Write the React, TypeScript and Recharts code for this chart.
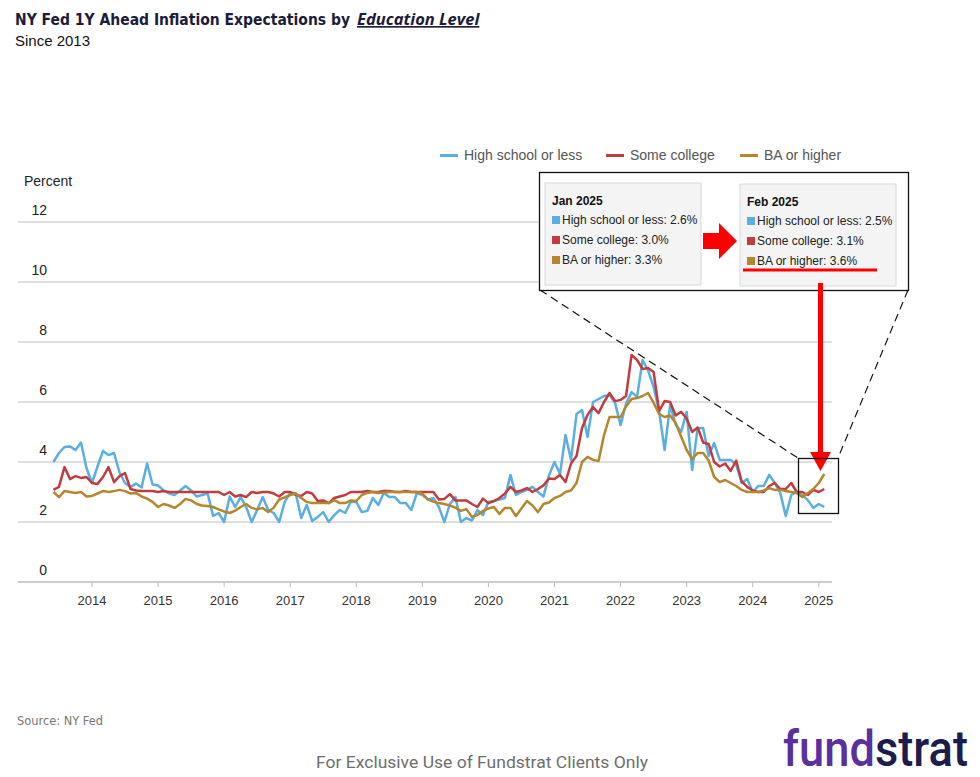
import React from "react";
import { LineChart, Line, XAxis, YAxis, CartesianGrid } from "recharts";

// monthly series, Jun 2013 .. Feb 2025
const START_YEAR = 2013;
const START_MONTH = 6;

const highSchool = [
  4.0, 4.3, 4.5, 4.52, 4.4, 4.65, 3.8,
  3.3, 3.85, 4.37, 4.23, 4.3, 3.65, 3.3, 3.17, 3.28, 3.15, 3.95, 3.25,
  3.22, 3.05, 2.95, 2.9, 3.05, 3.2, 3.05, 2.85, 2.9, 2.95, 2.2, 2.3,
  2.0, 2.85, 2.5, 2.83, 2.5, 2.0, 2.4, 2.83, 2.4, 2.3, 2.0, 2.67,
  2.97, 2.97, 2.13, 2.57, 2.03, 2.17, 2.33, 2.0, 2.23, 2.4, 2.3, 2.67,
  2.67, 2.33, 2.37, 2.8, 2.57, 2.97, 2.83, 2.83, 2.63, 2.63, 2.4, 2.97,
  2.9, 2.75, 2.8, 2.5, 2.0, 2.6, 2.83, 2.0, 2.13, 2.05, 2.4, 2.23,
  2.67, 2.7, 2.75, 2.8, 3.57, 2.9, 3.0, 3.07, 3.17, 3.0, 2.85, 3.55,
  4.0, 3.6, 4.9, 4.07, 5.6, 5.73, 4.83, 6.0, 6.1, 6.2, 6.23, 5.97,
  5.23, 5.95, 6.33, 6.17, 7.4, 7.05, 6.5, 5.7, 4.4, 5.9, 5.25, 5.0,
  5.67, 3.73, 5.13, 5.13, 4.2, 4.63, 4.07, 4.07, 4.07, 3.9, 3.3, 3.43,
  3.0, 3.2, 3.2, 3.57, 3.3, 2.97, 2.2, 2.9, 3.0, 2.9, 2.73, 2.47,
  2.6, 2.5,
];

const someCollege = [
  3.07, 3.17, 3.83, 3.43, 3.53, 3.47, 3.5,
  3.3, 3.27, 3.5, 3.83, 3.33, 3.53, 3.63, 3.1, 3.05, 3.03, 3.03, 3.03,
  3.0, 3.03, 3.0, 3.0, 3.0, 3.0, 3.0, 3.0, 3.0, 3.0, 3.0, 3.0,
  2.9, 3.0, 2.85, 2.9, 2.83, 3.0, 2.97, 3.0, 3.0, 2.95, 2.85, 3.0,
  3.0, 2.9, 2.87, 3.0, 2.95, 2.7, 2.72, 2.63, 2.8, 2.85, 2.9, 3.0,
  3.0, 3.0, 3.03, 3.0, 3.0, 3.03, 3.03, 3.0, 3.0, 3.03, 3.0, 3.0,
  3.0, 3.0, 3.0, 2.75, 2.77, 2.93, 2.72, 2.72, 2.72, 2.6, 2.5, 2.78,
  2.63, 2.7, 2.8, 2.95, 3.17, 3.0, 3.05, 3.13, 3.0, 3.1, 3.22, 3.45,
  3.43, 3.57, 3.33, 3.95, 4.2, 5.13, 5.57, 5.83, 5.63, 6.0, 6.3, 6.03,
  6.07, 6.2, 7.57, 7.4, 7.1, 7.13, 7.0, 5.7, 6.03, 6.0, 5.55, 5.67,
  5.45, 5.0, 5.15, 4.65, 4.6, 4.0, 3.85, 3.95, 3.7, 4.05, 3.35, 3.17,
  3.05, 3.0, 3.0, 3.2, 3.3, 3.1, 3.1, 3.3, 3.0, 3.0, 2.9, 3.07,
  3.0, 3.1,
];

const baOrHigher = [
  3.0, 2.83, 3.03, 3.0, 2.97, 3.0, 2.85,
  2.87, 2.95, 3.03, 3.0, 3.03, 3.07, 3.03, 2.95, 2.97, 2.85, 2.78, 2.67,
  2.5, 2.6, 2.55, 2.47, 2.6, 2.77, 2.72, 2.6, 2.55, 2.53, 2.5, 2.42,
  2.35, 2.3, 2.38, 2.5, 2.6, 2.47, 2.42, 2.47, 2.33, 2.48, 2.75, 2.82,
  2.9, 2.95, 2.8, 2.67, 2.63, 2.63, 2.63, 2.63, 2.73, 2.63, 2.63, 2.72,
  2.7, 2.9, 2.97, 3.0, 2.97, 2.98, 3.0, 3.0, 3.0, 3.0, 3.0, 3.0,
  2.95, 2.75, 2.68, 2.63, 2.6, 2.55, 2.48, 2.37, 2.43, 2.17, 2.23, 2.37,
  2.45, 2.5, 2.27, 2.47, 2.47, 2.2, 2.45, 2.7, 2.55, 2.33, 2.6, 2.65,
  2.8, 2.87, 3.0, 3.05, 3.3, 4.0, 4.17, 4.07, 4.03, 4.9, 5.5, 5.5,
  5.5, 5.85, 6.1, 6.13, 6.2, 6.3, 5.97, 5.6, 5.5, 5.55, 5.3, 4.85,
  4.4, 4.1, 4.3, 4.3, 4.05, 3.5, 3.33, 3.4, 3.3, 3.2, 3.07, 3.0,
  3.0, 3.0, 3.05, 3.13, 3.07, 3.07, 3.03, 3.0, 2.97, 2.83, 2.97, 3.1,
  3.3, 3.6,
];

const yearTicks = [2014, 2015, 2016, 2017, 2018, 2019, 2020, 2021, 2022, 2023, 2024, 2025];
const percentTicks = [0, 2, 4, 6, 8, 10, 12];

const series = [
  { key: "hs", name: "High school or less", color: "#5aaee2", values: highSchool },
  { key: "sc", name: "Some college", color: "#c03c3e", values: someCollege },
  { key: "ba", name: "BA or higher", color: "#b5862c", values: baOrHigher },
];

const data = highSchool.map((v, i) => ({
  t: START_YEAR + (START_MONTH - 1 + i) / 12,
  hs: v,
  sc: someCollege[i],
  ba: baOrHigher[i],
}));

const SANS = "'Liberation Sans', Arial, sans-serif";
const COND = "'DejaVu Sans Condensed', 'Liberation Sans', sans-serif";

const legendLeft = [440, 606, 740];

const renderYTick = (props: any) => {
  const { x, y, payload } = props;
  return (
    <text x={x + 37} y={y - 7} textAnchor="end" fontSize={14} fill="#222" fontFamily={SANS}>
      {payload.value}
    </text>
  );
};

const fmt = (v: number) => `${v.toFixed(1)}%`;

function Panel({ x, y, title, idx }: { x: number; y: number; title: string; idx: number }) {
  return (
    <g>
      <rect x={x} y={y} width={156} height={102} fill="#f4f4f4" stroke="#d8d8d8" />
      <text x={x + 7} y={y + 22} fontSize={12} fontWeight="bold" fill="#111" fontFamily={SANS}>
        {title}
      </text>
      {series.map((s, i) => (
        <g key={s.key}>
          <rect x={x + 7} y={y + 33 + i * 20} width={8} height={8} fill={s.color} />
          <text x={x + 17} y={y + 41 + i * 20} fontSize={12} fill="#222" fontFamily={SANS}>
            {`${s.name}: ${fmt(s.values[idx])}`}
          </text>
        </g>
      ))}
    </g>
  );
}

export default function App() {
  const n = highSchool.length;
  return (
    <div style={{ position: "absolute", left: 0, top: 0, width: 980, height: 777, background: "#fff" }}>
      <LineChart
        width={980}
        height={777}
        data={data}
        margin={{ top: 222, right: 148, bottom: 165, left: -22 }}
      >
        <CartesianGrid vertical={false} stroke="#d4d4d4" strokeWidth={1.5} />
        <XAxis
          dataKey="t"
          type="number"
          domain={[2012.88, 2025.2]}
          ticks={yearTicks}
          allowDataOverflow
          height={30}
          tickFormatter={(v: number) => String(Math.round(v))}
          tick={{ fontSize: 13, fill: "#333", fontFamily: SANS }}
          stroke="#bbb"
          tickSize={5}
          tickMargin={9}
        />
        <YAxis
          type="number"
          domain={[0, 12]}
          ticks={percentTicks}
          width={40}
          axisLine={false}
          tickLine={false}
          tick={renderYTick}
        />
        {series.map((s) => (
          <Line
            key={s.key}
            dataKey={s.key}
            name={s.name}
            stroke={s.color}
            strokeWidth={2.5}
            dot={false}
            strokeLinejoin="round"
            isAnimationActive={false}
          />
        ))}
      </LineChart>

      {/* legend */}
      {series.map((s, i) => (
        <div
          key={s.key}
          style={{
            position: "absolute",
            left: legendLeft[i],
            top: 146,
            height: 18,
            display: "flex",
            alignItems: "center",
            fontFamily: SANS,
            fontSize: 14,
            color: "#555",
          }}
        >
          <span style={{ display: "inline-block", width: 18, height: 3, background: s.color, marginRight: 6 }} />
          {s.name}
        </div>
      ))}

      <svg
        width={980}
        height={777}
        style={{ position: "absolute", left: 0, top: 0, pointerEvents: "none" }}
      >
        <text x={15} y={25} fontSize={15.5} fontWeight="bold" fill="#1c1c3a" fontFamily={COND}>
          NY Fed 1Y Ahead Inflation Expectations by
        </text>
        <text
          x={357}
          y={25}
          fontFamily="'Open Sans', sans-serif"
          fontStyle="italic"
          fontWeight="bold"
          fontSize={16.5}
          fill="#1c1c3a"
          textDecoration="underline"
        >
          Education Level
        </text>
        <text x={15} y={46} fontSize={15} fill="#111" fontFamily={SANS}>
          Since 2013
        </text>
        <text x={24} y={186} fontSize={14} fill="#222" fontFamily={SANS}>
          Percent
        </text>

        {/* zoom annotation */}
        <line x1={540} y1={290} x2={798} y2={458} stroke="#111" strokeWidth={1.2} strokeDasharray="8 5" />
        <line x1={908} y1={290} x2={838} y2={458} stroke="#111" strokeWidth={1.2} strokeDasharray="8 5" />
        <rect x={539.5} y={172.5} width={369} height={118} fill="#fff" stroke="#111" strokeWidth={1.3} />
        <Panel x={545} y={183} title="Jan 2025" idx={n - 2} />
        <Panel x={740} y={184} title="Feb 2025" idx={n - 1} />
        <polygon points="703,233 719,233 719,223 737,241 719,259 719,249 703,249" fill="#f00" />
        <rect x={743} y={268.5} width={134} height={3} fill="#f00" />
        <rect x={818} y={283} width={5} height={172} fill="#f00" />
        <polygon points="810,452 831,452 820.5,471" fill="#f00" />
        <rect x={798.5} y={458.5} width={40} height={55} fill="none" stroke="#111" strokeWidth={1.3} />

        <text x={17} y={725} fontSize={13} fill="#777" fontFamily={COND} textLength={86} lengthAdjust="spacingAndGlyphs">
          Source: NY Fed
        </text>
        <text
          x={316}
          y={768}
          fontSize={17}
          fill="#6e6e6e"
          fontFamily="Roboto, sans-serif"
          textLength={332}
          lengthAdjust="spacingAndGlyphs"
        >
          For Exclusive Use of Fundstrat Clients Only
        </text>
        <text
          x={783}
          y={766}
          fontSize={50}
          fontWeight={500}
          fontFamily="Roboto, sans-serif"
          textLength={185}
          lengthAdjust="spacingAndGlyphs"
        >
          <tspan fill="#5a2fa0">fund</tspan>
          <tspan fill="#1d1d4b">strat</tspan>
        </text>
      </svg>
    </div>
  );
}
